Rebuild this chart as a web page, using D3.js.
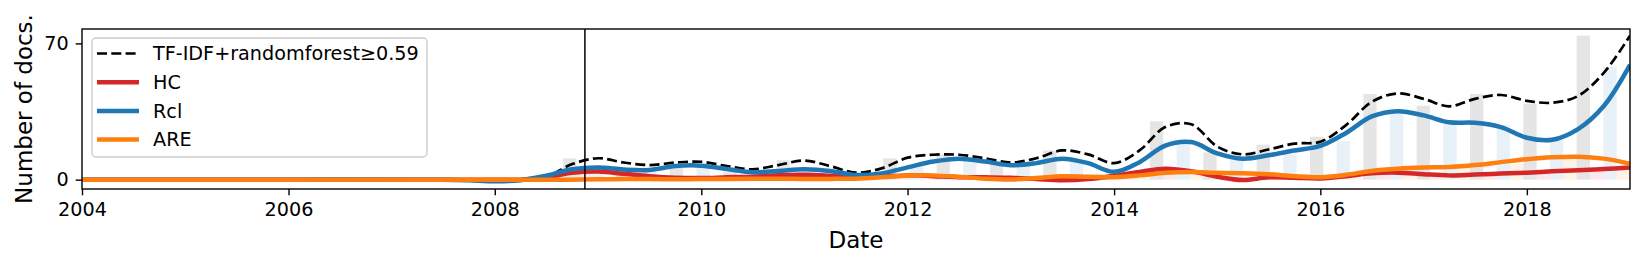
<!DOCTYPE html>
<html>
<head>
<meta charset="utf-8">
<script src="https://cdn.jsdelivr.net/npm/d3@7"></script>
<style>
	body { margin: 0; background: #fff; }
	svg { display: block; font-family: "DejaVu Sans", sans-serif; }
</style>
</head>
<body>
<svg id="chart"></svg>
<script>
// half-year groups for the background bars
const periods = [
	"2009H1", "2009H2", "2010H1", "2010H2", "2011H1", "2011H2", "2012H1", "2012H2", "2013H1", "2013H2",
	"2014H1", "2014H2", "2015H1", "2015H2", "2016H1", "2016H2", "2017H1", "2017H2", "2018H1", "2018H2",
]
const barsTotal = [11, 5, 6, 4, 10, 3, 11, 13, 9, 15, 3, 30, 14, 18, 22, 44, 38, 44, 39, 74]
const barsHC = [4, 2, 1, 1, 2, 1, 2, 1, 1, 0, 2, 5, 2, 1, 1, 4, 2, 3, 4, 6]
const barsRcl = [6, 5, 7, 3, 6, 2, 7, 11, 8, 10, 3, 19, 11, 13, 20, 34, 30, 28, 21, 58]
const barsARE = [0, 0, 0, 0, 0, 0, 2, 2, 0, 2, 1, 4, 3, 3, 1, 6, 6, 8, 11, 5]

// smoothed series
const lineDates = [
	"2004-01-01", "2006-01-01",
	"2007-07-01", "2007-10-01", "2008-01-01", "2008-04-01", "2008-07-01", "2008-10-01",
	"2009-01-01", "2009-04-01", "2009-07-01", "2009-10-01", "2010-01-01", "2010-04-01", "2010-07-01", "2010-10-01",
	"2011-01-01", "2011-04-01", "2011-07-01", "2011-10-01", "2012-01-01", "2012-04-01", "2012-07-01", "2012-10-01",
	"2013-01-01", "2013-04-01", "2013-07-01", "2013-10-01", "2014-01-01", "2014-04-01", "2014-07-01", "2014-10-01",
	"2015-01-01", "2015-04-01", "2015-07-01", "2015-10-01", "2016-01-01", "2016-04-01", "2016-07-01", "2016-10-01",
	"2017-01-01", "2017-04-01", "2017-07-01", "2017-10-01", "2018-01-01", "2018-04-01", "2018-07-01", "2018-10-01",
	"2019-01-01",
]
const lineTotal = [0, 0,
	0, 0, 0, 0, 1.5, 8,
	11, 8.8, 7.5, 8.8, 9.2, 7, 5.3, 7.5,
	9.8, 7, 3.6, 5.8, 11.3, 12.8, 12.8, 11,
	8.8, 11, 15, 13, 8.5, 15, 27, 28.5,
	17, 13, 15.5, 18.5, 19.5, 28, 40, 44.3,
	41.5, 37.7, 41.5, 43.5, 40.5, 39.5, 43, 55,
	74]
const lineHC = [0, 0,
	0, 0, 0, 0, 1.2, 3.5,
	4.2, 3, 1.8, 1, 0.8, 1.2, 1.5, 2.3,
	2.5, 2, 1.3, 1.5, 2.2, 1.8, 1.3, 1.2,
	1, 0.3, -0.3, 0.3, 2, 4, 5.6, 4.3,
	1.5, -0.2, 1.2, 1, 0.6, 1.8, 3.3, 3.6,
	2.8, 2.2, 2.6, 3.1, 3.6, 4.3, 4.8, 5.5,
	6.2]
const lineRcl = [0, 0,
	0, -0.3, -0.8, -0.3, 2, 5.3,
	6.2, 5.2, 5, 7, 7.2, 5.5, 3.8, 4.5,
	5.3, 4.5, 2.4, 3.2, 6.3, 9.3, 10.8, 9.3,
	7.4, 8.5, 10.8, 8.5, 4, 9, 17.5, 19.3,
	13.5, 10.8, 12.5, 15, 17.3, 24, 32.5, 35.2,
	33, 29.5, 29.2, 27, 21.5, 20.5, 26, 38,
	59]
const lineARE = [0, 0,
	0, 0, 0, 0, 0, 0,
	0.2, 0.3, 0.3, 0.2, 0.3, 0.4, 0.5, 0.5,
	0.4, 0.4, 0.5, 1.2, 2.1, 2.2, 1.5, 0.5,
	0.1, 0.8, 1.7, 1.5, 1.3, 2.2, 3.5, 3.9,
	3.5, 3.3, 2.8, 1.8, 1.3, 2.5, 4.5, 5.6,
	6.2, 6.5, 7.5, 9, 10.5, 11.5, 11.8, 10.8,
	8.2]

const yTicks = [0, 70]
const xTickYears = [2004, 2006, 2008, 2010, 2012, 2014, 2016, 2018]
const markerDate = "2008-11-15"
const barsFrom = "2008-08-30"

const series = [
	{ name: "TF-IDF+randomforest\u22650.59", values: lineTotal, color: "#000", dash: "10,4.3", width: 2.7 },
	{ name: "HC", values: lineHC, color: "#d62728", dash: null, width: 4.5 },
	{ name: "Rcl", values: lineRcl, color: "#1f77b4", dash: null, width: 4.5 },
	{ name: "ARE", values: lineARE, color: "#ff7f0e", dash: null, width: 4.5 },
]
const barSets = [
	{ values: barsTotal, color: "rgba(0,0,0,0.1)" },
	{ values: barsHC, color: "rgba(214,39,40,0.1)" },
	{ values: barsRcl, color: "rgba(31,119,180,0.1)" },
	{ values: barsARE, color: "rgba(255,127,14,0.1)" },
]

const width = 1644
const height = 265
const margin = { top: 29, right: 14, bottom: 76, left: 82 }
const fontSmall = 19.2
const fontLarge = 23
const parse = d3.timeParse("%Y-%m-%d")

const svg = d3.select("#chart").attr("width", width).attr("height", height)

// scale
const scale = {
	x: d3
		.scaleTime()
		.domain([new Date(2004, 0, 1), new Date(2019, 0, 1)])
		.range([margin.left, width - margin.right]),
	y: d3
		.scaleLinear()
		.domain([-4.8, 77.4])
		.range([height - margin.bottom, margin.top]),
}
scale.group = d3
	.scaleBand()
	.domain(periods)
	.range([scale.x(parse(barsFrom)), scale.x(new Date(2019, 0, 1))])
scale.sub = d3
	.scaleBand()
	.domain(d3.range(barSets.length))
	.range([0, scale.group.bandwidth()])

svg.append("defs")
	.append("clipPath")
	.attr("id", "plot")
	.append("rect")
	.attr("x", margin.left)
	.attr("y", margin.top)
	.attr("width", width - margin.left - margin.right)
	.attr("height", height - margin.top - margin.bottom)

const plot = svg.append("g").attr("clip-path", "url(#plot)")

// bars
barSets.forEach((set, k) => {
	plot.append("g")
		.selectAll("rect")
		.data(set.values)
		.join("rect")
		.attr("x", (d, i) => scale.group(periods[i]) + scale.sub(k))
		.attr("width", scale.sub.bandwidth())
		.attr("y", (d) => scale.y(Math.max(d, 0)))
		.attr("height", (d) => Math.abs(scale.y(0) - scale.y(d)))
		.style("fill", set.color)
})

// lines
const line = d3
	.line()
	.x((d, i) => scale.x(parse(lineDates[i])))
	.y((d) => scale.y(d))
	.curve(d3.curveCatmullRom.alpha(0.5))

series.forEach((s) => {
	plot.append("path")
		.datum(s.values)
		.attr("d", line)
		.attr("fill", "none")
		.attr("stroke", s.color)
		.attr("stroke-width", s.width)
		.attr("stroke-dasharray", s.dash)
		.attr("stroke-linejoin", "round")
})

// marker line
plot.append("line")
	.attr("x1", scale.x(parse(markerDate)))
	.attr("x2", scale.x(parse(markerDate)))
	.attr("y1", margin.top)
	.attr("y2", height - margin.bottom)
	.attr("stroke", "#000")
	.attr("stroke-width", 1.5)

// axis
const axis = {
	x: (g) =>
		g
			.attr("transform", `translate(0, ${height - margin.bottom})`)
			.call(
				d3
					.axisBottom(scale.x)
					.tickValues(xTickYears.map((y) => new Date(y, 0, 1)))
					.tickFormat(d3.timeFormat("%Y"))
					.tickSizeOuter(0)
					.tickSize(6.3)
					.tickPadding(7)
			),
	y: (g) =>
		g
			.attr("transform", `translate(${margin.left}, 0)`)
			.call(d3.axisLeft(scale.y).tickValues(yTicks).tickSizeOuter(0).tickSize(6.3).tickPadding(7)),
}
svg.append("g").attr("class", "x-axis").call(axis.x)
svg.append("g").attr("class", "y-axis").call(axis.y)
svg.selectAll(".x-axis path, .y-axis path").remove()
svg.selectAll(".tick line").attr("stroke", "#000").attr("stroke-width", 1.4)
svg.selectAll(".tick text").attr("font-size", fontSmall).attr("fill", "#000").style("font-family", "DejaVu Sans")

// frame
svg.append("rect")
	.attr("x", margin.left)
	.attr("y", margin.top)
	.attr("width", width - margin.left - margin.right)
	.attr("height", height - margin.top - margin.bottom)
	.attr("fill", "none")
	.attr("stroke", "#000")
	.attr("stroke-width", 1.4)

// labels
svg.append("text")
	.attr("x", (margin.left + width - margin.right) / 2)
	.attr("y", 247.5)
	.attr("text-anchor", "middle")
	.attr("font-size", fontLarge)
	.text("Date")

svg.append("text")
	.attr("transform", `translate(32, ${(margin.top + height - margin.bottom) / 2}) rotate(-90)`)
	.attr("text-anchor", "middle")
	.attr("font-size", fontLarge)
	.text("Number of docs.")

// legend
const legend = svg.append("g").attr("transform", "translate(92, 38)")
legend.append("rect")
	.attr("width", 335)
	.attr("height", 119)
	.attr("rx", 4)
	.attr("fill", "rgba(255,255,255,0.8)")
	.attr("stroke", "#ccc")
	.attr("stroke-width", 1.4)

const item = legend
	.selectAll("g.item")
	.data(series)
	.join("g")
	.attr("class", "item")
	.attr("transform", (d, i) => `translate(0, ${15.5 + i * 28.7})`)

item.append("line")
	.attr("x1", 5)
	.attr("x2", 47)
	.attr("stroke", (d) => d.color)
	.attr("stroke-width", (d) => d.width)
	.attr("stroke-dasharray", (d) => d.dash)

item.append("text")
	.attr("x", 61)
	.attr("dy", "0.35em")
	.attr("font-size", fontSmall)
	.text((d) => d.name)
</script>
</body>
</html>
